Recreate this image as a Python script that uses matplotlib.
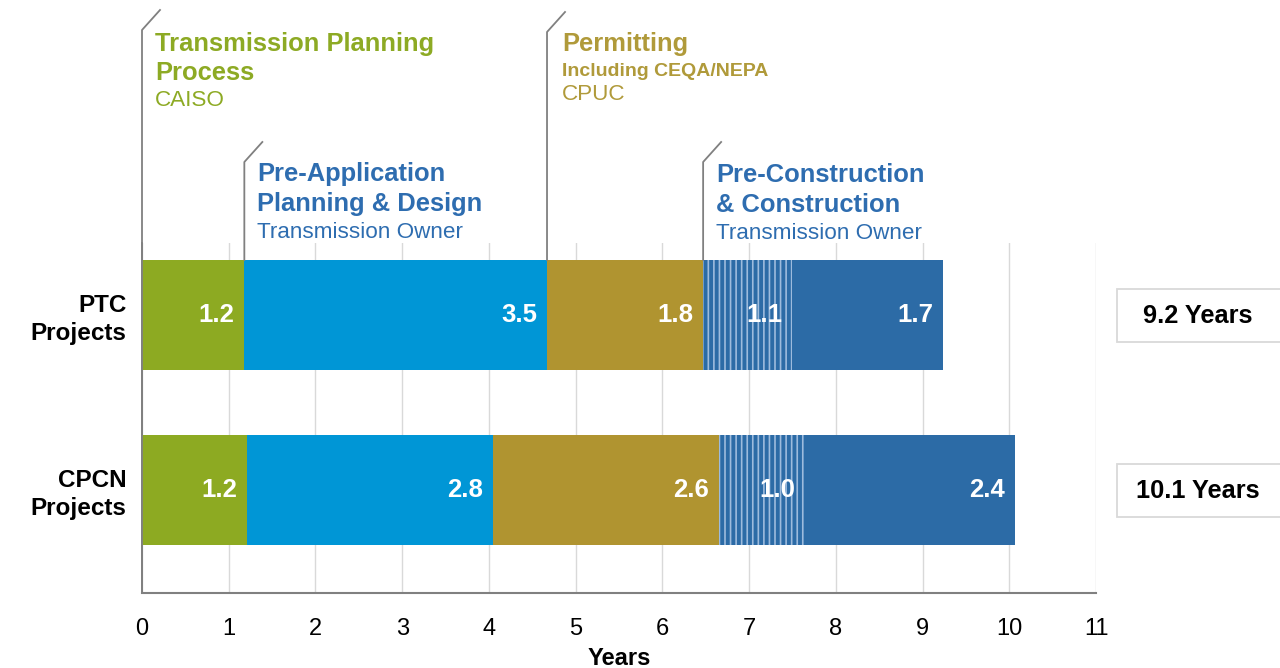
import matplotlib
matplotlib.use("Agg")
import matplotlib.pyplot as plt
from matplotlib.patches import Rectangle
from matplotlib.lines import Line2D
import numpy as np

plt.rcParams['font.family'] = ['Liberation Sans', 'DejaVu Sans']

# ---- data ----
projects = ["PTC\nProjects", "CPCN\nProjects"]
phases = ["Transmission Planning", "Pre-Application", "Permitting", "Pre-Construction", "Construction"]
ptc_values = [1.18, 3.49, 1.80, 1.03, 1.74]
cpcn_values = [1.21, 2.84, 2.60, 1.00, 2.42]
ptc_labels = ["1.2", "3.5", "1.8", "1.1", "1.7"]
cpcn_labels = ["1.2", "2.8", "2.6", "1.0", "2.4"]
totals = ["9.2 Years", "10.1 Years"]
x_ticks = list(range(0, 12))

colors = ["#8DAA22", "#0096D6", "#B09430", "#2C6BA6", "#2C6BA6"]
hatches = [None, None, None, "|||", None]

W, H = 1280, 668
fig = plt.figure(figsize=(W / 100, H / 100), dpi=100)
ax_l, ax_r, ax_t, ax_b = 142, 1096, 243, 593
ax = fig.add_axes([ax_l / W, 1 - ax_b / H, (ax_r - ax_l) / W, (ax_b - ax_t) / H])

ax.set_xlim(0, 11)
ax.set_ylim(1.589, -0.411)

rows = [ptc_values, cpcn_values]
row_labels = [ptc_labels, cpcn_labels]
bar_h = 0.63
px_per_year = (ax_r - ax_l) / 11.0
plt.rcParams['hatch.linewidth'] = 1.2
for i, (vals, labs) in enumerate(zip(rows, row_labels)):
    left = 0.0
    for j, (v, lab) in enumerate(zip(vals, labs)):
        if hatches[j]:
            ax.barh(i, v, left=left, height=bar_h, color=colors[j],
                    edgecolor="#9dbbdd", linewidth=0, hatch=hatches[j], zorder=3)
        else:
            ax.barh(i, v, left=left, height=bar_h, color=colors[j],
                    linewidth=0, zorder=3)
        ax.text(left + v - 10 / px_per_year, i, lab, ha="right", va="center",
                color="white", fontsize=18.5, fontweight="bold", zorder=5)
        left += v

ax.set_xticks(x_ticks)
ax.set_xticklabels([str(t) for t in x_ticks], fontsize=17)
ax.tick_params(axis="x", length=0, pad=18, colors="black")
ax.set_yticks([0, 1])
ax.set_yticklabels(projects, fontsize=17.5, fontweight="bold", ha="right",
                   multialignment="right", linespacing=1.28)
ax.tick_params(axis="y", length=0, pad=11)
ax.set_xlabel("Years", fontsize=17, fontweight="bold", labelpad=5)
ax.xaxis.grid(True, color="#d9d9d9", linewidth=1, zorder=0)
ax.set_axisbelow(True)
for s in ["top", "right"]:
    ax.spines[s].set_visible(False)
ax.spines["left"].set_color("#808080")
ax.spines["left"].set_linewidth(1.3)
ax.spines["bottom"].set_color("#808080")
ax.spines["bottom"].set_linewidth(1.5)

# ---- annotation leader lines (pixel space) ----
def fx(px):
    return px / W

def fy(py):
    return 1 - py / H

cum_ptc = np.concatenate([[0], np.cumsum(ptc_values)])
line_specs = [
    (cum_ptc[0], 593, 30),
    (cum_ptc[1], 260, 162),
    (cum_ptc[2], 260, 32),
    (cum_ptc[3], 260, 162),
]
for xd, ybot, ytop in line_specs:
    xp = ax_l + xd * px_per_year
    fig.add_artist(Line2D([fx(xp), fx(xp), fx(xp + 18)],
                          [fy(ybot), fy(ytop), fy(ytop - 20)],
                          color="#808080", linewidth=1.3))

green_t = "#8DAA24"
gold_t = "#B09A3A"
blue_t = "#2E6DB0"

def label(xp, yp, s, color, size, bold=True):
    fig.text(fx(xp), fy(yp), s, color=color, fontsize=size,
             fontweight="bold" if bold else "normal", ha="left", va="center")

x1 = ax_l + cum_ptc[0] * px_per_year + 13
label(x1, 44, "Transmission Planning", green_t, 18.4)
label(x1, 73, "Process", green_t, 18.4)
label(x1, 101, "CAISO", green_t, 16.2, bold=False)

x2 = ax_l + cum_ptc[1] * px_per_year + 13
label(x2, 174, "Pre-Application", blue_t, 18.4)
label(x2, 204, "Planning & Design", blue_t, 18.4)
label(x2, 232, "Transmission Owner", blue_t, 16.2, bold=False)

x3 = ax_l + cum_ptc[2] * px_per_year + 15
label(x3, 44, "Permitting", gold_t, 18.4)
label(x3, 72, "Including CEQA/NEPA", gold_t, 14)
label(x3, 95, "CPUC", gold_t, 16.2, bold=False)

x4 = ax_l + cum_ptc[3] * px_per_year + 13
label(x4, 175, "Pre-Construction", blue_t, 18.4)
label(x4, 205, "& Construction", blue_t, 18.4)
label(x4, 233, "Transmission Owner", blue_t, 16.2, bold=False)

# ---- total boxes ----
for (ytop, ybot), txt in zip([(289, 342), (464, 517)], totals):
    fig.add_artist(Rectangle((fx(1117), fy(ybot)), fx(1290) - fx(1117), fy(ytop) - fy(ybot),
                             facecolor="white", edgecolor="#d9d9d9", linewidth=1.3))
    fig.text(fx(1198), fy((ytop + ybot) / 2), txt, fontsize=18.3, fontweight="bold",
             ha="center", va="center", color="black")

fig.savefig("out.png", dpi=100)
